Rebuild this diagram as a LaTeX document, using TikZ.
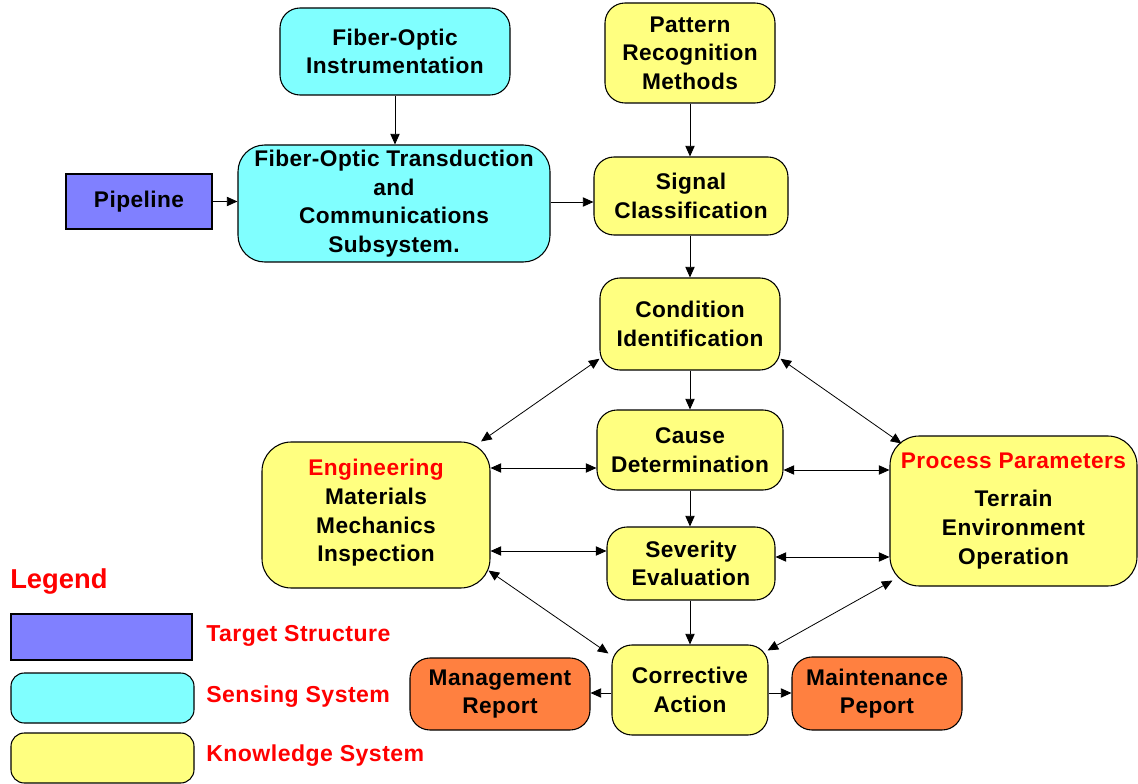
\documentclass[tikz,border=0pt]{standalone}
\usepackage{fontspec}
\setmainfont{Liberation Sans}
\newfontfamily\boxfont[LetterSpace=2.0]{Liberation Sans}
\usetikzlibrary{arrows.meta,calc}
\definecolor{tblue}{HTML}{8080FF}
\definecolor{tcyan}{HTML}{80FFFF}
\definecolor{tyellow}{HTML}{FFFF80}
\definecolor{torange}{HTML}{FF8040}
\begin{document}
\begin{tikzpicture}[x=0.75pt,y=-0.75pt,
 base/.style={draw=black,line width=0.8pt,align=center,inner sep=0pt,font=\boxfont\fontsize{17}{21.5}\selectfont\bfseries},
 rbox/.style={base,rounded corners=15pt},
 sens/.style={rbox,fill=tcyan},
 know/.style={rbox,fill=tyellow},
 outp/.style={rbox,fill=torange},
 targ/.style={base,fill=tblue},
 arr/.style={line width=0.7pt,-{Triangle[length=8pt,width=7pt]}},
 darr/.style={line width=0.6pt,{Triangle[length=8pt,width=7pt]}-{Triangle[length=8pt,width=7pt]}},
 legtxt/.style={text=red,anchor=west,inner sep=0pt,font=\boxfont\fontsize{17.3}{20}\selectfont\bfseries}]
\useasboundingbox (0,0) rectangle (1138,784);

% main nodes
\node[sens,minimum width=172.5pt,minimum height=65.25pt] (instr) at (395,51.5) {Fiber-Optic\\Instrumentation};
\node[know,minimum width=127.5pt,minimum height=75pt] (patt) at (690,53) {Pattern\\Recognition\\Methods};
\node[targ,minimum width=109.5pt,minimum height=41.25pt] (pipe) at (139,201.5) {Pipeline};
\node[sens,rounded corners=20pt,minimum width=234pt,minimum height=87.75pt] (trans) at (394,203.5) {Fiber-Optic Transduction\\and\\Communications\\Subsystem.};
\node[know,minimum width=145.5pt,minimum height=58.5pt] (sig) at (691,196) {Signal\\Classification};
\node[know,minimum width=135pt,minimum height=69pt] (cond) at (690,324) {Condition\\Identification};
\node[know,minimum width=139.5pt,minimum height=60pt] (cause) at (690,450) {Cause\\Determination};
\node[know,rounded corners=22pt,minimum width=171pt,minimum height=109.5pt] (eng) at (376,515) {\textcolor{red}{Engineering}\\Materials\\Mechanics\\Inspection\\[-15pt]\mbox{}};
\node[know,rounded corners=22pt,minimum width=185.25pt,minimum height=112.5pt] (proc) at (1013.5,511) {\textcolor{red}{Process Parameters}\\[7pt]Terrain\\Environment\\Operation};
\node[know,minimum width=126pt,minimum height=54.75pt] (sev) at (691,563.5) {Severity\\Evaluation};
\node[know,minimum width=117pt,minimum height=67.5pt] (corr) at (690,690) {Corrective\\Action};
\node[outp,minimum width=135pt,minimum height=54pt] (mgmt) at (500,694) {Management\\Report};
\node[outp,minimum width=127.5pt,minimum height=54.75pt] (maint) at (877,693.5) {Maintenance\\Peport};

% connectors
\draw[arr] (instr.south) -- (instr.south |- trans.north);
\draw[arr] (pipe.east) -- (pipe.east -| trans.west);
\draw[arr] (trans.east |- 0,202) -- (sig.west |- 0,202);
\draw[arr] (patt.south) -- (patt.south |- sig.north);
\draw[arr] (sig.south -| cond.north) -- (cond.north);
\draw[arr] (cond.south) -- (cond.south |- cause.north);
\draw[arr] (cause.south) -- (cause.south |- sev.north);
\draw[arr] (sev.south -| corr.north) -- (corr.north);
\draw[darr] (cond.201) -- (eng.35);
\draw[darr] (cond.339) -- ($(proc.north west)+(12,8)$);
\draw[darr] (eng.east |- 0,468) -- (cause.west |- 0,468);
\draw[darr] (cause.east |- 0,470) -- (proc.west |- 0,470);
\draw[darr] (eng.east |- 0,551) -- (sev.west |- 0,551);
\draw[darr] (sev.east |- 0,557) -- (proc.west |- 0,557);
\draw[darr] ($(eng.south east)+(-2,-18)$) -- ($(corr.north west)+(-3,9)$);
\draw[darr] ($(proc.south west)+(3,-6)$) -- ($(corr.north east)+(-1,6)$);
\draw[arr] (corr.west |- 0,693) -- (mgmt.east |- 0,693);
\draw[arr] (corr.east |- 0,693) -- (maint.west |- 0,693);

% legend
\node[anchor=west,inner sep=0pt,text=red,font=\fontsize{20.5}{24}\selectfont\bfseries] (leg) at (10,581) {Legend};
\node[targ,minimum width=135.75pt,minimum height=34.5pt] (lb1) at (101.5,637) {};
\node[sens,rounded corners=10pt,minimum width=137.25pt,minimum height=37.5pt] (lb2) at (102.5,698) {};
\node[know,rounded corners=10pt,minimum width=137.25pt,minimum height=37.5pt] (lb3) at (102.5,758) {};
\node[legtxt] (lt1) at (206,636) {Target Structure};
\node[legtxt] (lt2) at (206,697) {Sensing System};
\node[legtxt] (lt3) at (206,756) {Knowledge System};
\end{tikzpicture}
\end{document}
